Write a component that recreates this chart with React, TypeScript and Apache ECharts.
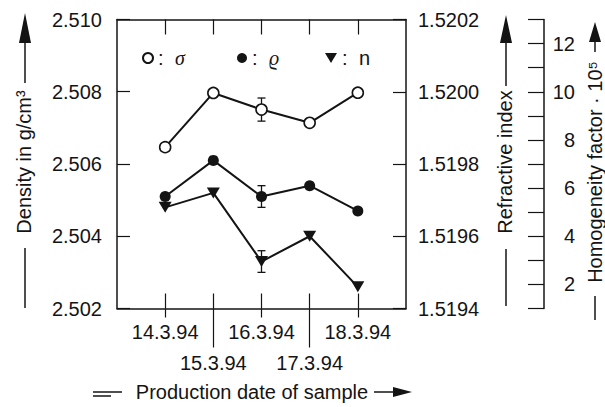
import { useEffect, useRef } from 'react';
import * as echarts from 'echarts';

// Production dates of the glass samples (x positions 1..5)
const dates = ['14.3.94', '15.3.94', '16.3.94', '17.3.94', '18.3.94'];

// Homogeneity factor · 10^5 (σ)
const sigma = [7.7, 9.95, 9.26, 8.71, 9.96];
// Density in g/cm³ (ϱ)
const density = [2.5051, 2.5061, 2.5051, 2.5054, 2.5047];
// Refractive index (n)
const refractive = [1.51968, 1.51972, 1.51953, 1.5196, 1.51946];

// Scatter ranges measured on 16.3.94: [x position, low, high]
const sigmaSpread = [3, 8.78, 9.74];
const densitySpread = [3, 2.5048, 2.5054];
const refractiveSpread = [3, 1.5195, 1.51956];

// Axis ranges
const densityAxis = { min: 2.502, max: 2.51, step: 0.002 };
const refractiveAxis = { min: 1.5194, max: 1.5202, step: 0.0002 };
const homogeneityAxis = { min: 1, max: 13, step: 1 };
const upperRowTicks = [1, 3, 5];
const lowerRowTicks = [2, 4];
const allTicks = [1, 2, 3, 4, 5];

const INK = '#141414';
const SANS = '"Liberation Sans", Arial, Helvetica, sans-serif';
const SERIF = '"Liberation Serif", "DejaVu Serif", serif';
const TRIANGLE = 'path://M0,0L12,0L6,10Z';

const toPoints = (vals: number[]) => vals.map((v, i) => [i + 1, v]);

const errorBarSeries = (yAxisIndex: number, range: number[]) => ({
  type: 'custom',
  xAxisIndex: 0,
  yAxisIndex,
  z: 1,
  silent: true,
  data: [range],
  encode: { x: 0, y: [1, 2] },
  renderItem: (_params: any, api: any) => {
    const x = api.value(0);
    const lo = api.coord([x, api.value(1)]);
    const hi = api.coord([x, api.value(2)]);
    const cap = 4;
    const style = { stroke: INK, lineWidth: 1.3 };
    return {
      type: 'group',
      children: [
        { type: 'line', shape: { x1: lo[0], y1: lo[1], x2: hi[0], y2: hi[1] }, style },
        { type: 'line', shape: { x1: lo[0] - cap, y1: lo[1], x2: lo[0] + cap, y2: lo[1] }, style },
        { type: 'line', shape: { x1: hi[0] - cap, y1: hi[1], x2: hi[0] + cap, y2: hi[1] }, style },
      ],
    };
  },
});

const legendText = {
  rich: {
    c: { fontSize: 20, fontFamily: SANS, color: INK, width: 17 },
    g: { fontSize: 20, fontFamily: SERIF, fontStyle: 'italic', color: INK },
    s: { fontSize: 20, fontFamily: SANS, color: INK },
  },
};
const legendFormatter = (name: string) =>
  name === 'n' ? '{c|:}{s|n}' : `{c|:}{g|${name}}`;

const baseLegend = {
  orient: 'horizontal',
  padding: 0,
  top: 48,
  itemWidth: 10,
  itemHeight: 10,
  selectedMode: false,
  formatter: legendFormatter,
  textStyle: legendText,
};

const lineStyle = { color: INK, width: 2 };

const arrowUp = (x: number, tip: number, base: number) => ({
  type: 'polygon',
  shape: { points: [[x, tip], [x - 6, base], [x + 6, base]] },
  style: { fill: INK },
});
const vLine = (x: number, y1: number, y2: number) => ({
  type: 'line',
  shape: { x1: x, y1, x2: x, y2 },
  style: { stroke: INK, lineWidth: 1.5 },
});
const hLine = (y: number, x1: number, x2: number) => ({
  type: 'line',
  shape: { x1, y1: y, x2, y2: y },
  style: { stroke: INK, lineWidth: 1.5 },
});
const vTitle = (x: number, y: number, text: string) => ({
  type: 'text',
  x,
  y,
  rotation: Math.PI / 2,
  style: {
    text,
    font: `20px ${SANS}`,
    fill: INK,
    align: 'center',
    verticalAlign: 'middle',
  },
});

export default function App() {
  const ref = useRef<HTMLDivElement>(null);

  useEffect(() => {
    if (!ref.current) return;
    const chart = echarts.init(ref.current, undefined, { renderer: 'svg' });

    const frameLine = { show: true, onZero: false, lineStyle: { color: INK, width: 1.5 } };
    const xBase = { type: 'value', min: 0, max: 6, interval: 1, splitLine: { show: false } };
    const tickStyle = { color: INK, width: 1.2 };

    chart.setOption({
      animation: false,
      backgroundColor: '#fff',
      textStyle: { fontFamily: SANS },
      grid: {
        left: 117,
        right: 199,
        top: 19.5,
        bottom: 98.5,
        containLabel: false,
        outerBoundsMode: 'none',
      },
      legend: [
        { ...baseLegend, left: 142, data: [{ name: 'σ', icon: 'circle' }] },
        { ...baseLegend, left: 237, data: [{ name: 'ϱ', icon: 'circle' }] },
        { ...baseLegend, left: 325, itemWidth: 12, data: [{ name: 'n', icon: TRIANGLE }] },
      ],
      xAxis: [
        {
          ...xBase,
          position: 'bottom',
          axisLine: frameLine,
          axisTick: { show: true, inside: true, length: 15, customValues: allTicks, lineStyle: tickStyle },
          axisLabel: { show: false },
        },
        {
          ...xBase,
          position: 'bottom',
          axisLine: { show: false, onZero: false },
          axisTick: { show: true, inside: false, length: 9, customValues: upperRowTicks, lineStyle: tickStyle },
          axisLabel: {
            show: true,
            customValues: upperRowTicks,
            margin: 13,
            fontSize: 20,
            color: INK,
            formatter: (v: number) => dates[Math.round(v) - 1] ?? '',
          },
        },
        {
          ...xBase,
          position: 'bottom',
          axisLine: { show: false, onZero: false },
          axisTick: { show: true, inside: false, length: 39, customValues: lowerRowTicks, lineStyle: tickStyle },
          axisLabel: {
            show: true,
            customValues: lowerRowTicks,
            margin: 44,
            fontSize: 20,
            color: INK,
            formatter: (v: number) => dates[Math.round(v) - 1] ?? '',
          },
        },
        {
          ...xBase,
          position: 'top',
          axisLine: frameLine,
          axisTick: { show: true, inside: true, length: 15, customValues: allTicks, lineStyle: tickStyle },
          axisLabel: { show: false },
        },
      ],
      yAxis: [
        {
          type: 'value',
          position: 'left',
          min: densityAxis.min,
          max: densityAxis.max,
          interval: densityAxis.step,
          splitLine: { show: false },
          axisLine: frameLine,
          axisTick: { show: true, inside: true, length: 13, lineStyle: tickStyle },
          axisLabel: { fontSize: 20, color: INK, margin: 15, formatter: (v: number) => v.toFixed(3) },
        },
        {
          type: 'value',
          position: 'right',
          min: refractiveAxis.min,
          max: refractiveAxis.max,
          interval: refractiveAxis.step,
          splitLine: { show: false },
          axisLine: frameLine,
          axisTick: { show: true, inside: true, length: 13, lineStyle: tickStyle },
          axisLabel: { fontSize: 20, color: INK, margin: 12, formatter: (v: number) => v.toFixed(4) },
        },
        {
          type: 'value',
          position: 'right',
          offset: 138,
          min: homogeneityAxis.min,
          max: homogeneityAxis.max,
          interval: homogeneityAxis.step,
          splitLine: { show: false },
          axisLine: frameLine,
          axisTick: { show: true, inside: true, length: 16, lineStyle: tickStyle },
          axisLabel: {
            fontSize: 20,
            color: INK,
            margin: 31,
            align: 'right',
            formatter: (v: number) => {
              const r = Math.round(v);
              return r % 2 === 0 && r >= 2 && r <= 12 ? String(r) : '';
            },
          },
        },
      ],
      series: [
        {
          name: 'σ',
          type: 'line',
          xAxisIndex: 0,
          yAxisIndex: 2,
          z: 3,
          data: toPoints(sigma),
          symbol: 'circle',
          symbolSize: 11,
          itemStyle: { color: '#fff', borderColor: INK, borderWidth: 1.6 },
          lineStyle,
        },
        {
          name: 'ϱ',
          type: 'line',
          xAxisIndex: 0,
          yAxisIndex: 0,
          z: 3,
          data: toPoints(density),
          symbol: 'circle',
          symbolSize: 11,
          itemStyle: { color: INK, borderColor: INK, borderWidth: 0 },
          lineStyle,
        },
        {
          name: 'n',
          type: 'line',
          xAxisIndex: 0,
          yAxisIndex: 1,
          z: 3,
          data: toPoints(refractive),
          symbol: TRIANGLE,
          symbolSize: [13, 11],
          itemStyle: { color: INK, borderColor: INK, borderWidth: 0 },
          lineStyle,
        },
        errorBarSeries(2, sigmaSpread),
        errorBarSeries(0, densitySpread),
        errorBarSeries(1, refractiveSpread),
      ],
      graphic: [
        // Density title with upward arrow
        vTitle(24, 162, 'Density in g/cm³'),
        arrowUp(25, 13, 43),
        vLine(25, 42, 83),
        vLine(25, 248, 308),
        // Refractive index title
        vTitle(505, 162, 'Refractive index'),
        arrowUp(506, 15, 43),
        vLine(506, 42, 86),
        vLine(506, 249, 306),
        // Homogeneity factor title
        vTitle(595, 172, 'Homogeneity factor · 10⁵'),
        arrowUp(595, 22, 42),
        vLine(595, 41, 52),
        vLine(595, 296, 320),
        // Production date title
        {
          type: 'text',
          x: 252,
          y: 392,
          style: {
            text: 'Production date of sample',
            font: `20px ${SANS}`,
            fill: INK,
            align: 'center',
            verticalAlign: 'middle',
          },
        },
        hLine(392, 93, 122),
        hLine(396, 93, 111),
        hLine(392, 374, 396),
        {
          type: 'polygon',
          shape: { points: [[412, 392], [393, 387], [393, 397]] },
          style: { fill: INK },
        },
      ],
    });

    return () => chart.dispose();
  }, []);

  return (
    <div
      ref={ref}
      style={{ position: 'absolute', left: 0, top: 0, width: 605, height: 407, background: '#fff' }}
    />
  );
}
